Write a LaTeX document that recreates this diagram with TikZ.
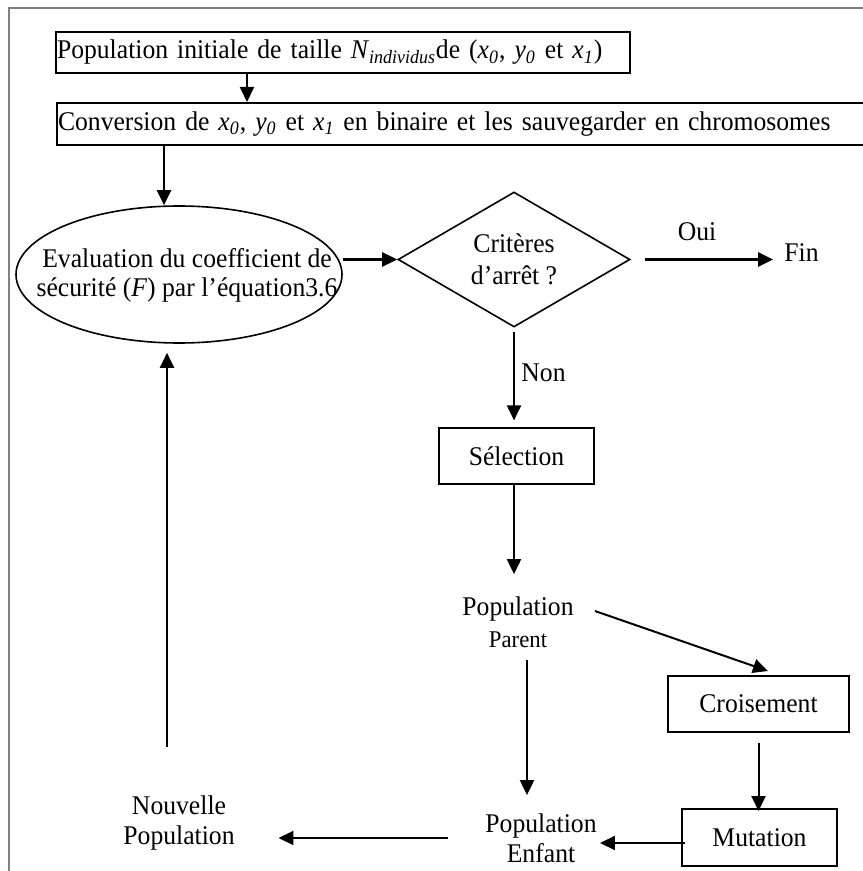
\documentclass[tikz,border=0pt]{standalone}
\usepackage{fontspec}
\setmainfont{Liberation Serif}[FakeStretch=0.95]
\usetikzlibrary{shapes.geometric,arrows.meta}
\begin{document}
\begin{tikzpicture}[x=0.5pt,y=-0.5pt,
  every node/.style={inner sep=0pt, font=\fontsize{13.5pt}{15pt}\selectfont},
  box/.style={draw, line width=1pt},
  txt/.style={align=center},
  arr/.style={line width=1pt, -{Triangle[length=7.5pt,width=7pt]}},
  frame/.style={draw=gray, line width=0.9pt}
]
\useasboundingbox (0,0) rectangle (862,871);
\draw[frame] (9,880) -- (9,8) -- (880,8);

\node[box, minimum width=287pt, minimum height=20.5pt, text width=286pt, align=left] (box1) at (343,52.5)
  {Population initiale de taille \textit{N}\textsubscript{\textit{individus}}de (\textit{x}\textsubscript{\textit{0}}, \textit{y}\textsubscript{\textit{0}} et \textit{x}\textsubscript{\textit{1}})};
\node[box, minimum width=411.5pt, minimum height=21pt, text width=410.5pt, align=left] (box2) at (468.5,124)
  {Conversion de \textit{x}\textsubscript{\textit{0}}, \textit{y}\textsubscript{\textit{0}} et \textit{x}\textsubscript{\textit{1}} en binaire et les sauvegarder en chromosomes};

\node[ellipse, draw, line width=0.8pt, minimum width=163pt, minimum height=68.5pt] (eval) at (179,274.5) {};
\node[txt, font=\fontsize{13.5pt}{14.5pt}\selectfont] (evaltxt) at (187,275.5)
  {Evaluation du coefficient de\\sécurité (\textit{F}) par l’équation3.6};

\node[diamond, draw, line width=0.8pt, minimum width=116pt, minimum height=67.5pt, aspect=1.72, txt,
  font=\fontsize{13.5pt}{16pt}\selectfont] (dia) at (514,259.5) {Critères\\d’arrêt ?};

\node (fin) at (801.5,253) {Fin};
\node (oui) at (697,232) {Oui};
\node[anchor=west] (non) at (521,373) {Non};
\node[box, minimum width=77.5pt, minimum height=28pt] (sel) at (516.5,456) {Sélection\hspace{6.5pt}};
\node[txt, font=\fontsize{13.5pt}{16pt}\selectfont] (pp) at (518,622)
  {Population\\{\fontsize{12pt}{16pt}\selectfont Parent}};
\node[box, minimum width=90.5pt, minimum height=28pt] (cro) at (758.5,704) {Croisement};
\node[box, minimum width=77.5pt, minimum height=28.5pt] (mut) at (759.5,837.5) {Mutation\hspace{7.5pt}};
\node[txt] (pe) at (541,838) {Population\\Enfant};
\node[txt] (np) at (179,823) {Nouvelle\\Population};

\coordinate (cA) at (247,0);
\coordinate (cB) at (164,0);
\coordinate (cC) at (527,0);
\coordinate (cD) at (167,0);

\draw[arr] (box1.south -| cA) -- (box2.north -| cA);
\draw[arr] (box2.south -| cB) -- (eval.north -| cB);
\draw[arr, line width=1.3pt] (dia.west -| eval.east) -- (dia.west);
\draw[arr, line width=1.3pt, shorten <=7pt, shorten >=5.5pt] (dia.east) -- (dia.east -| fin.west);
\draw[arr, shorten <=2pt, shorten >=3.3pt] (dia.south) -- (sel.north -| dia.south);
\draw[arr, shorten >=11pt] (sel.south -| dia.south) -- (pp.north -| dia.south);
\draw[arr, shorten <=6pt, shorten >=9pt] (pp.south -| cC) -- (pe.north -| cC);
\draw[arr] ([xshift=10.5pt,yshift=5.5pt]pp.east) -- ([xshift=4.75pt,yshift=2pt]cro.north);
\draw[arr, shorten <=5pt, shorten >=-1.5pt] (cro.south) -- (mut.north -| cro.south);
\draw[arr, shorten <=-2pt, shorten >=1.5pt] (mut.184) -- (mut.184 -| pe.east);
\draw[arr, shorten <=18.5pt, shorten >=21.75pt] (pe.west) -- (pe.west -| np.east);
\draw[arr, shorten <=24pt, shorten >=4.5pt] (np.north -| cD) -- (eval.south -| cD);
\end{tikzpicture}
\end{document}
